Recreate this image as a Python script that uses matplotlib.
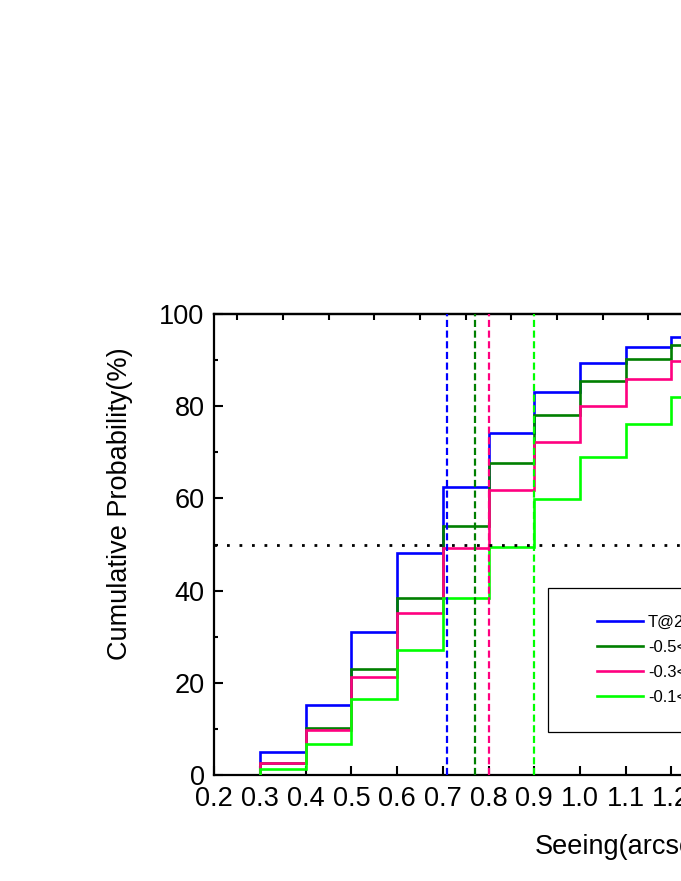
import numpy as np
import matplotlib
matplotlib.use("Agg")
import matplotlib.pyplot as plt
from matplotlib.patches import Rectangle
from matplotlib.lines import Line2D

plt.rcParams['font.family'] = ['Liberation Sans', 'DejaVu Sans']

# bin edges (arcsec)
edges = [0.3, 0.4, 0.5, 0.6, 0.7, 0.8, 0.9, 1.0, 1.1, 1.2, 1.3]
# cumulative probability (%) per bin
blue_vals = [4.9, 15.2, 31.0, 48.1, 62.4, 74.1, 83.1, 89.3, 92.9, 95.1]
dgreen_vals = [2.5, 10.3, 22.9, 38.3, 54.0, 67.7, 78.1, 85.5, 90.2, 93.3]
pink_vals = [2.5, 9.8, 21.3, 35.1, 49.2, 61.8, 72.2, 80.0, 85.8, 89.8]
lgreen_vals = [1.4, 6.7, 16.4, 27.1, 38.3, 49.4, 59.9, 69.0, 76.1, 81.9]
# median seeing markers
medians = [0.71, 0.77, 0.80, 0.90]
labels = ['T@2m', '-0.5<\u0394T<0.5', '-0.3<\u0394T<0.3', '-0.1<\u0394T<0.1']
colors = ['#0000FF', '#007F00', '#FF0080', '#00FF00']
xticks = [0.2, 0.3, 0.4, 0.5, 0.6, 0.7, 0.8, 0.9, 1.0, 1.1, 1.2, 1.3, 1.4, 1.5, 1.6, 1.7, 1.8, 1.9, 2.0]
yticks = [0, 20, 40, 60, 80, 100]

W, H = 681, 881
fig = plt.figure(figsize=(W / 100, H / 100), dpi=100)
left_px, right_px, top_px, bottom_px = 214.3, 214.3 + 1.8 * 457, 314, 775
ax = fig.add_axes([left_px / W, (H - bottom_px) / H, (right_px - left_px) / W, (bottom_px - top_px) / H])

series = [blue_vals, dgreen_vals, pink_vals, lgreen_vals]
for vals, c in zip(series, colors):
    ax.stairs(vals, edges, baseline=0, color=c, lw=1.9, zorder=3)

for m, c in zip(medians, colors):
    ax.plot([m, m], [0, 100], color=c, lw=1.6, ls=(0, (3.2, 1.6)), zorder=4)
ax.plot([0.2, 2.0], [50, 50], color='black', lw=2.0, ls=(0, (1, 3.5)), zorder=4)

ax.set_xlim(0.2, 2.0)
ax.set_ylim(0, 100)
ax.set_xticks(xticks)
ax.set_xticklabels([f'{t:.1f}' for t in xticks])
ax.set_yticks(yticks)
ax.set_yticks([10, 30, 50, 70, 90], minor=True)
ax.tick_params(axis='both', which='major', direction='in', length=6.5, width=1.5,
               labelsize=19.5, pad=7, top=False, right=False)
ax.tick_params(axis='x', which='major', pad=8)
ax.tick_params(axis='y', which='minor', direction='in', length=3, width=1.5, right=False)
ax.tick_params(axis='x', which='minor', bottom=False, top=False)
for s in ax.spines.values():
    s.set_linewidth(1.6)
    s.set_color('black')

sec = ax.secondary_xaxis('top')
sec.set_xticks(list(np.round(np.arange(0.25, 2.0, 0.1), 2)))
sec.tick_params(direction='in', length=4, width=1.5, labeltop=False)
sec.spines['top'].set_linewidth(1.6)

ax.set_xlabel('Seeing(arcsec)', fontsize=19.5, labelpad=16)
ax.set_ylabel('Cumulative Probability(%)', fontsize=19.5)
ax.yaxis.set_label_coords(-0.0988, 0.588)

# legend box
rect = Rectangle((548 / W, (H - 732) / H), 300 / W, (732 - 588) / H, transform=fig.transFigure,
                 fill=True, facecolor='white', edgecolor='black', lw=0.9, zorder=5, clip_on=False)
fig.add_artist(rect)
handles = [Line2D([], [], color=c, lw=1.9) for c in colors]
leg = fig.legend(handles, labels, loc='upper left', bbox_to_anchor=(597 / W, (H - 615) / H),
                 frameon=False, fontsize=12, borderpad=0, borderaxespad=0,
                 handlelength=2.75, handletextpad=0.3, labelspacing=0.6)
leg.set_zorder(6)

fig.savefig('out.png', dpi=100)
